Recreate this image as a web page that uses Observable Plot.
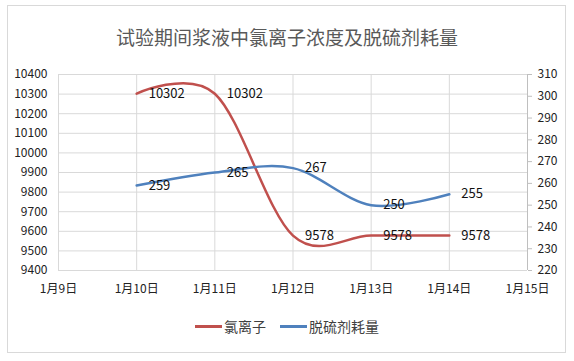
<!DOCTYPE html>
<html><head><meta charset="utf-8">
<script src="https://cdn.jsdelivr.net/npm/d3@7"></script>
<script src="https://cdn.jsdelivr.net/npm/@observablehq/plot@0.6"></script>
<style>
body{margin:0;background:#fff;width:574px;height:361px;position:relative;overflow:hidden;font-family:"Liberation Sans Narrow","Noto Sans CJK SC",sans-serif;}
#frame{position:absolute;left:7px;top:5px;width:559px;height:348px;border:1px solid #d9d9d9;box-sizing:border-box;}
#title{position:absolute;left:0;width:574px;top:24px;text-align:center;font-size:19px;line-height:26px;color:#595959;font-family:"Noto Sans CJK SC",sans-serif;}
#chart{position:absolute;left:0;top:60px;}
#legend{position:absolute;left:0;top:316px;width:574px;height:20px;display:flex;justify-content:center;align-items:center;font-family:"Noto Sans CJK SC",sans-serif;font-size:14px;color:#404040;}
.item{display:flex;align-items:center;margin:0 7px;}
.sw{width:27px;height:3px;margin-right:2px;}
</style>
</head><body>
<div id="frame"></div>
<div id="title">试验期间浆液中氯离子浓度及脱硫剂耗量</div>
<div id="chart"></div>
<div id="legend"></div>
<script>
const days = [10, 11, 12, 13, 14];
const xTicks = [9, 10, 11, 12, 13, 14, 15];
const chloride = [10302, 10302, 9578, 9578, 9578];
const desulf = [259, 265, 267, 250, 255];
const leftTicks = [9400, 9500, 9600, 9700, 9800, 9900, 10000, 10100, 10200, 10300, 10400];
const rightTicks = [220, 230, 240, 250, 260, 270, 280, 290, 300, 310];
const seriesNames = ["氯离子", "脱硫剂耗量"];
const colors = ["#C0504D", "#4F81BD"];

// map right-axis values onto left scale domain
const toLeft = v => 9400 + (v - 220) * 1000 / 90;
const toRight = y => String(Math.round(220 + (y - 9400) * 90 / 1000));

const red = days.map((d, i) => ({x: d, y: chloride[i], label: String(chloride[i])}));
const blue = days.map((d, i) => ({x: d, y: toLeft(desulf[i]), label: String(desulf[i])}));

const grid = "#d9d9d9";
const chart = Plot.plot({
  width: 574,
  height: 245,
  marginLeft: 58,
  marginRight: 47,
  marginTop: 14,
  marginBottom: 35,
  style: {fontSize: "12px", fontFamily: '"Liberation Sans Narrow","Noto Sans CJK SC",sans-serif', color: "#222", background: "transparent"},
  x: {domain: [9, 15]},
  y: {domain: [9400, 10400]},
  marks: [
    Plot.gridX(xTicks, {stroke: grid, strokeOpacity: 1}),
    Plot.gridY(leftTicks, {stroke: grid, strokeOpacity: 1}),
    Plot.axisY(leftTicks, {anchor: "left", tickSize: 0, tickPadding: 11, label: null, tickFormat: d => String(d), fill: "#222"}),
    Plot.axisY(rightTicks.map(toLeft), {anchor: "right", tickSize: 4, tickPadding: 6, stroke: "#bfbfbf", label: null, tickFormat: toRight, fill: "#222"}),
    Plot.ruleX([15], {stroke: "#bfbfbf"}),
    Plot.axisX(xTicks, {anchor: "bottom", tickSize: 0, tickPadding: 14, label: null, tickFormat: d => `1月${d}日`, fill: "#222"}),
    Plot.line(red, {x: "x", y: "y", stroke: colors[0], strokeWidth: 2.5, curve: "cardinal", tension: 0}),
    Plot.line(blue, {x: "x", y: "y", stroke: colors[1], strokeWidth: 2.5, curve: "cardinal", tension: 0}),
    Plot.text(red, {x: "x", y: "y", text: "label", dx: 12, textAnchor: "start", fontSize: 13, fill: "#111"}),
    Plot.text(blue, {x: "x", y: "y", text: "label", dx: 12, textAnchor: "start", fontSize: 13, fill: "#111"})
  ]
});
document.getElementById("chart").appendChild(chart);

const legend = document.getElementById("legend");
seriesNames.forEach((n, i) => {
  const it = document.createElement("div");
  it.className = "item";
  const sw = document.createElement("div");
  sw.className = "sw";
  sw.style.background = colors[i];
  const t = document.createElement("span");
  t.textContent = n;
  it.appendChild(sw); it.appendChild(t);
  legend.appendChild(it);
});
</script>
</body></html>
